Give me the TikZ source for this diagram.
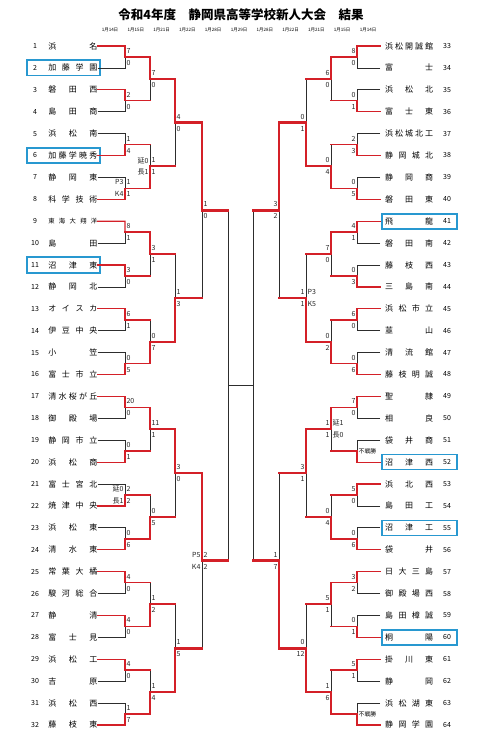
\documentclass[tikz,border=0pt]{standalone}
\usepackage{fontspec}
\setmainfont{Noto Sans CJK JP}
\usetikzlibrary{calc}
\definecolor{winred}{RGB}{212,32,40}
\definecolor{boxblue}{RGB}{40,152,208}
\definecolor{lineblk}{RGB}{45,45,45}
\makeatletter
\def\spr#1{\spr@i#1\@nil}
\def\spr@i#1#2\@nil{#1\ifx\relax#2\relax\else\hfill\spr@i#2\@nil\fi}
\makeatother
\tikzset{
  lose/.style={draw=lineblk, line width=0.7pt},
  win/.style={draw=winred, line width=#1, line cap=rect},
  win/.default=1.2pt,
  tname/.style={inner sep=0pt, font=\fontsize{8}{8}\selectfont},
  tnum/.style={inner sep=0pt, font=\fontsize{7}{7}\selectfont},
  score/.style={inner sep=0pt, font=\fontsize{7}{7}\selectfont, text=black!85},
  hbox/.style={draw=boxblue, line width=1.6pt, inner sep=0pt},
}
\newcommand\bmatch[8]{%
  \pgfmathtruncatemacro\nn{2^(#2)}%
  \pgfmathsetmacro\hh{\nn/2}%
  \pgfmathsetmacro\yt{46+(#3*\nn+(\hh-1)/2)*21.9}%
  \pgfmathsetmacro\yb{46+(#3*\nn+\hh+(\hh-1)/2)*21.9}%
  \pgfmathsetmacro\ym{46+(#3*\nn+(\nn-1)/2)*21.9}%
  \pgfmathsetmacro\ww{{1.2,1.5,2.0,2.6,2.6}[#2-1]}%
  \if L#1%
    \pgfmathsetmacro\xb{{125,150,175,202,228}[#2-1]}%
    \def\anc{east}\def\toff{0}%
  \else
    \pgfmathsetmacro\xb{{357,331,306,279,253}[#2-1]}%
    \def\anc{west}\def\toff{32}%
  \fi
  \coordinate (#1#2m#3) at (\xb,\ym);%
  \ifnum#2=1
    \pgfmathtruncatemacro\ta{#3*2+1+\toff}%
    \pgfmathtruncatemacro\tb{\ta+1}%
    \if t#4
      \draw[lose] (t\tb.\anc) -- (\xb,\yb) -- (\xb,\ym);
      \draw[win=\ww pt] (t\ta.\anc) -- (\xb,\yt) -- (\xb,\ym);
    \else
      \draw[lose] (t\ta.\anc) -- (\xb,\yt) -- (\xb,\ym);
      \draw[win=\ww pt] (t\tb.\anc) -- (\xb,\yb) -- (\xb,\ym);
    \fi
  \else
    \pgfmathtruncatemacro\ka{#2-1}%
    \pgfmathtruncatemacro\ca{2*#3}%
    \pgfmathtruncatemacro\cc{2*#3+1}%
    \if t#4
      \draw[lose] (\xb,\yb) -- (\xb,\ym);
      \draw[win=\ww pt] (#1\ka m\cc) -- (\xb,\yb);
      \draw[win=\ww pt] (#1\ka m\ca) -- (\xb,\yt) -- (\xb,\ym);
    \else\if b#4
      \draw[lose] (\xb,\yt) -- (\xb,\ym);
      \draw[win=\ww pt] (#1\ka m\ca) -- (\xb,\yt);
      \draw[win=\ww pt] (#1\ka m\cc) -- (\xb,\yb) -- (\xb,\ym);
    \else
      \draw[lose] (\xb,\yt) -- (\xb,\yb);
      \draw[win=\ww pt] (#1\ka m\ca) -- (\xb,\yt);
      \draw[win=\ww pt] (#1\ka m\cc) -- (\xb,\yb);
    \fi\fi
  \fi
  \if L#1%
    \node[score, anchor=west] (s#1#2m#3a) at (\xb+1.4,\ym-6) {#5};
    \node[score, anchor=west] (s#1#2m#3b) at (\xb+1.4,\ym+6) {#6};
    \node[score, anchor=east] (e#1#2m#3a) at (\xb-1.4,\ym-6) {#7};
    \node[score, anchor=east] (e#1#2m#3b) at (\xb-1.4,\ym+6) {#8};
  \else
    \node[score, anchor=east] (s#1#2m#3a) at (\xb-1.4,\ym-6) {#5};
    \node[score, anchor=east] (s#1#2m#3b) at (\xb-1.4,\ym+6) {#6};
    \node[score, anchor=west] (e#1#2m#3a) at (\xb+1.4,\ym-6) {#7};
    \node[score, anchor=west] (e#1#2m#3b) at (\xb+1.4,\ym+6) {#8};
  \fi
}
\begin{document}
\begin{tikzpicture}[x=1pt,y=-1pt]
\useasboundingbox[fill=white] (0,0) rectangle (480,741);
% title
\node[font=\fontsize{12.5}{12.5}\selectfont\bfseries, inner sep=0pt] (title) at (241,15) {令和4年度\quad 静岡県高等学校新人大会\quad 結果};
\foreach \d [count=\c from 0] in {1月14日,1月15日,1月21日,1月22日,1月28日,1月29日,1月28日,1月22日,1月21日,1月15日,1月14日}
  \node[font=\fontsize{4.5}{4.5}\selectfont, inner sep=0pt] (d\c) at (110+\c*25.8,30) {\d};
% left teams
\foreach \i/\nm in {1/浜名,2/加藤学園,3/磐田西,4/島田商,5/浜松南,6/加藤学暁秀,7/静岡東,8/科学技術,10/島田,11/沼津東,12/静岡北,13/オイスカ,14/伊豆中央,15/小笠,16/富士市立,17/清水桜が丘,18/御殿場,19/静岡市立,20/浜松商,21/富士宮北,22/焼津中央,23/浜松東,24/清水東,25/常葉大橘,26/駿河総合,27/静清,28/富士見,29/浜松工,30/吉原,31/浜松西,32/藤枝東}{
  \pgfmathsetmacro\y{46+(\i-1)*21.9}
  \node[tname, anchor=east] (t\i) at (97.5,\y) {\makebox[49pt]{\expandafter\spr\expandafter{\nm}}};
  \node[tnum] (n\i) at (35,\y) {\i};
}
\node[tname, anchor=east] (t9) at (97.5,221.2) {\makebox[49pt]{\fontsize{6.3}{6.3}\selectfont\spr{東海大翔洋}}};
\node[tnum] (n9) at (35,221.2) {9};
% right teams
\foreach \i/\nm in {33/浜松開誠館,34/富士,35/浜松北,36/富士東,37/浜松城北工,38/静岡城北,39/静岡商,40/磐田東,41/飛龍,42/磐田南,43/藤枝西,44/三島南,45/浜松市立,46/韮山,47/清流館,48/藤枝明誠,49/聖隷,50/相良,51/袋井商,52/沼津西,53/浜北西,54/島田工,55/沼津工,56/袋井,57/日大三島,58/御殿場西,59/島田樟誠,60/桐陽,61/掛川東,62/静岡,63/浜松湖東,64/静岡学園}{
  \pgfmathsetmacro\y{46+(\i-33)*21.9}
  \node[tname, anchor=west] (t\i) at (380,\y) {\hspace{5pt}\makebox[48pt]{\expandafter\spr\expandafter{\nm}}};
  \node[tnum] (n\i) at (447,\y) {\i};
}
% highlight boxes
\foreach \i in {2,6,11}{
  \pgfmathsetmacro\y{46+(\i-1)*21.9}
  \node[hbox, minimum width=73pt, minimum height=15.5pt] (b\i) at (63.5,\y) {};
}
\foreach \i in {41,52,55,60}{
  \pgfmathsetmacro\y{46+(\i-33)*21.9}
  \node[hbox, minimum width=75pt, minimum height=15pt] (b\i) at (419.5,\y) {};
}
% left bracket
\bmatch{L}{1}{0}{t}{7}{0}{}{}
\bmatch{L}{1}{1}{t}{2}{0}{}{}
\bmatch{L}{1}{2}{b}{1}{4}{}{}
\bmatch{L}{1}{3}{b}{1}{1}{P3}{K4}
\bmatch{L}{1}{4}{t}{8}{1}{}{}
\bmatch{L}{1}{5}{t}{3}{0}{}{}
\bmatch{L}{1}{6}{t}{6}{1}{}{}
\bmatch{L}{1}{7}{b}{0}{5}{}{}
\bmatch{L}{1}{8}{t}{20}{0}{}{}
\bmatch{L}{1}{9}{b}{0}{1}{}{}
\bmatch{L}{1}{10}{b}{2}{2}{延0}{長1}
\bmatch{L}{1}{11}{b}{0}{6}{}{}
\bmatch{L}{1}{12}{t}{4}{0}{}{}
\bmatch{L}{1}{13}{t}{4}{0}{}{}
\bmatch{L}{1}{14}{t}{4}{0}{}{}
\bmatch{L}{1}{15}{b}{1}{7}{}{}
\bmatch{L}{2}{0}{t}{7}{0}{}{}
\bmatch{L}{2}{1}{b}{1}{1}{延0}{長1}
\bmatch{L}{2}{2}{t}{3}{1}{}{}
\bmatch{L}{2}{3}{b}{0}{7}{}{}
\bmatch{L}{2}{4}{t}{11}{1}{}{}
\bmatch{L}{2}{5}{b}{0}{5}{}{}
\bmatch{L}{2}{6}{b}{1}{2}{}{}
\bmatch{L}{2}{7}{b}{1}{4}{}{}
\bmatch{L}{3}{0}{t}{4}{0}{}{}
\bmatch{L}{3}{1}{b}{1}{3}{}{}
\bmatch{L}{3}{2}{t}{3}{0}{}{}
\bmatch{L}{3}{3}{b}{1}{5}{}{}
\bmatch{L}{4}{0}{t}{1}{0}{}{}
\bmatch{L}{4}{1}{t}{2}{2}{P5}{K4}
\bmatch{L}{5}{0}{n}{}{}{}{}
% right bracket
\bmatch{R}{1}{0}{t}{8}{0}{}{}
\bmatch{R}{1}{1}{b}{0}{1}{}{}
\bmatch{R}{1}{2}{b}{2}{3}{}{}
\bmatch{R}{1}{3}{b}{0}{5}{}{}
\bmatch{R}{1}{4}{t}{4}{1}{}{}
\bmatch{R}{1}{5}{b}{0}{3}{}{}
\bmatch{R}{1}{6}{t}{6}{0}{}{}
\bmatch{R}{1}{7}{b}{0}{6}{}{}
\bmatch{R}{1}{8}{t}{7}{0}{}{}
\bmatch{R}{1}{9}{b}{}{}{}{}
\bmatch{R}{1}{10}{t}{5}{0}{}{}
\bmatch{R}{1}{11}{b}{0}{6}{}{}
\bmatch{R}{1}{12}{t}{3}{2}{}{}
\bmatch{R}{1}{13}{b}{0}{1}{}{}
\bmatch{R}{1}{14}{t}{5}{1}{}{}
\bmatch{R}{1}{15}{b}{}{}{}{}
\bmatch{R}{2}{0}{t}{6}{0}{}{}
\bmatch{R}{2}{1}{b}{0}{4}{}{}
\bmatch{R}{2}{2}{t}{7}{0}{}{}
\bmatch{R}{2}{3}{b}{0}{2}{}{}
\bmatch{R}{2}{4}{t}{1}{1}{延1}{長0}
\bmatch{R}{2}{5}{b}{0}{4}{}{}
\bmatch{R}{2}{6}{t}{5}{1}{}{}
\bmatch{R}{2}{7}{b}{1}{6}{}{}
\bmatch{R}{3}{0}{b}{0}{1}{}{}
\bmatch{R}{3}{1}{b}{1}{1}{P3}{K5}
\bmatch{R}{3}{2}{t}{3}{1}{}{}
\bmatch{R}{3}{3}{b}{0}{12}{}{}
\bmatch{R}{4}{0}{t}{3}{2}{}{}
\bmatch{R}{4}{1}{b}{1}{7}{}{}
\bmatch{R}{5}{0}{n}{}{}{}{}
% walkover labels
\node[inner sep=0pt, anchor=west, font=\fontsize{5.8}{5.8}\selectfont] (fw1) at (358.5,451.2) {不戦勝};
\node[inner sep=0pt, anchor=west, font=\fontsize{5.8}{5.8}\selectfont] (fw2) at (358.5,714.0) {不戦勝};
% final link
\draw[lose] (L5m0) -- (R5m0);
\end{tikzpicture}
\end{document}
